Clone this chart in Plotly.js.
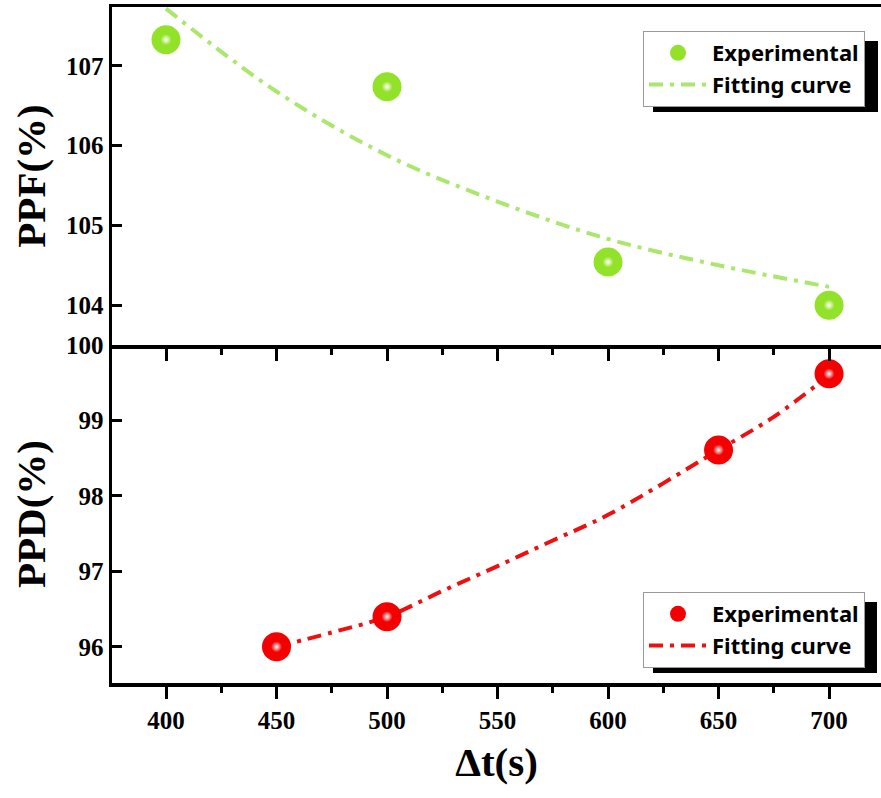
<!DOCTYPE html>
<html>
<head>
<meta charset="utf-8">
<script src="https://cdn.plot.ly/plotly-3.0.1.min.js"></script>
<style>html,body{margin:0;padding:0;background:#fff;}#chart{width:881px;height:798px;}</style>
</head>
<body>
<div id="chart"></div>
<script>
// ---- data ----
var dtPPF = [400, 500, 600, 700];
var ppfValues = [107.33, 106.74, 104.54, 104.0];
var fitDtPPF = [400, 450, 500, 550, 600, 650, 700];
var fitPPF = [107.72, 106.68, 105.88, 105.30, 104.83, 104.50, 104.23];

var dtPPD = [450, 500, 650, 700];
var ppdValues = [96.0, 96.4, 98.61, 99.62];
var fitDtPPD = [450, 475, 500, 525, 550, 575, 600, 650, 675, 700];
var fitPPD = [96.0, 96.19, 96.40, 96.74, 97.07, 97.41, 97.75, 98.61, 99.05, 99.6];

var xTickVals = [400, 450, 500, 550, 600, 650, 700];
var ppfTickVals = [104, 105, 106, 107];
var ppdTickVals = [96, 97, 98, 99, 100];

var seriesNames = ['Experimental', 'Fitting curve'];

// ---- styles ----
var green = '#93e22a', greenLine = '#abe66e';
var red = '#f40000', redLine = '#ee1010';
var serif = '"Times New Roman", "Liberation Serif", Times, serif';
var dashDot = '14px,7px,4px,7px';

var traces = [
  // top panel
  {x: fitDtPPF, y: fitPPF, xaxis: 'x2', yaxis: 'y2', mode: 'lines', name: seriesNames[1],
   line: {color: greenLine, width: 4, dash: dashDot, shape: 'spline'}, legend: 'legend', legendrank: 2, legendgroup: 'g2'},
  {x: dtPPF, y: ppfValues, xaxis: 'x2', yaxis: 'y2', mode: 'markers', name: seriesNames[0],
   marker: {color: green, size: 29}, legend: 'legend', legendrank: 1, legendgroup: 'g1'},
  {x: dtPPF, y: ppfValues, xaxis: 'x2', yaxis: 'y2', mode: 'markers', showlegend: false, hoverinfo: 'skip',
   marker: {color: green, size: 11, gradient: {type: 'radial', color: '#ffffff'}}},
  // bottom panel
  {x: fitDtPPD, y: fitPPD, xaxis: 'x', yaxis: 'y', mode: 'lines', name: seriesNames[1],
   line: {color: redLine, width: 4, dash: dashDot, shape: 'spline'}, legend: 'legend2', legendrank: 2, legendgroup: 'r2'},
  {x: dtPPD, y: ppdValues, xaxis: 'x', yaxis: 'y', mode: 'markers', name: seriesNames[0],
   marker: {color: red, size: 29}, legend: 'legend2', legendrank: 1, legendgroup: 'r1'},
  {x: dtPPD, y: ppdValues, xaxis: 'x', yaxis: 'y', mode: 'markers', showlegend: false, hoverinfo: 'skip',
   marker: {color: red, size: 11, gradient: {type: 'radial', color: '#ffffff'}}}
];

var tickFont = {family: serif, size: 25, weight: 'bold', color: '#000'};
var titleFont = {family: serif, size: 41, weight: 'bold', color: '#000'};

var baseX = {
  range: [375.57, 723.5], showline: true, linewidth: 3.5, linecolor: '#000',
  ticks: 'outside', ticklen: 12, tickwidth: 3, tickcolor: '#000',
  tickvals: xTickVals, showgrid: false, zeroline: false,
  minor: {ticks: 'outside', ticklen: 6, tickwidth: 3, tickcolor: '#000', dtick: 25, tick0: 400, showgrid: false}
};
var baseY = {
  showline: true, linewidth: 3.5, linecolor: '#000',
  ticks: 'inside', ticklen: 10, tickwidth: 3, tickcolor: '#000',
  showgrid: false, zeroline: false, tickfont: tickFont
};

var legendBase = {
  bgcolor: '#ffffff', bordercolor: '#9a9a9a', borderwidth: 1,
  font: {family: 'Noto Sans', size: 22, weight: 'bold', color: '#000'},
  itemwidth: 58, traceorder: 'grouped', tracegroupgap: 0,
  xanchor: 'left', yanchor: 'top'
};

var layout = {
  width: 881, height: 798,
  margin: {l: 112, r: 0, t: 7, b: 115},
  paper_bgcolor: '#fff', plot_bgcolor: '#fff',
  showlegend: true,
  xaxis: Object.assign({}, baseX, {anchor: 'y', domain: [0, 1], tickfont: tickFont,
    title: {text: 'Δt(s)', font: titleFont, standoff: 16}}),
  xaxis2: Object.assign({}, baseX, {anchor: 'y2', domain: [0, 1], matches: 'x', mirror: true, showticklabels: false}),
  yaxis: Object.assign({}, baseY, {anchor: 'x', domain: [0, 0.5], range: [95.52, 100.002], tickvals: ppdTickVals,
    title: {text: 'PPD(%)', font: titleFont, standoff: 8}}),
  yaxis2: Object.assign({}, baseY, {anchor: 'x2', domain: [0.5, 1], range: [103.5, 107.74], tickvals: ppfTickVals,
    title: {text: 'PPF(%)', font: titleFont, standoff: 8}}),
  legend: Object.assign({}, legendBase, {x: 0.6905, y: 0.9645}),
  legend2: Object.assign({}, legendBase, {x: 0.6905, y: 0.1346}),
  shapes: [
    {type: 'rect', xref: 'paper', yref: 'paper', x0: 0.7035, x1: 0.9961, y0: 0.8447, y1: 0.9497,
     fillcolor: '#000', line: {width: 0}, layer: 'above'},
    {type: 'rect', xref: 'paper', yref: 'paper', x0: 0.7035, x1: 0.9948, y0: 0.0148, y1: 0.1198,
     fillcolor: '#000', line: {width: 0}, layer: 'above'}
  ]
};

Plotly.newPlot('chart', traces, layout, {displayModeBar: false, staticPlot: true});
</script>
</body>
</html>
